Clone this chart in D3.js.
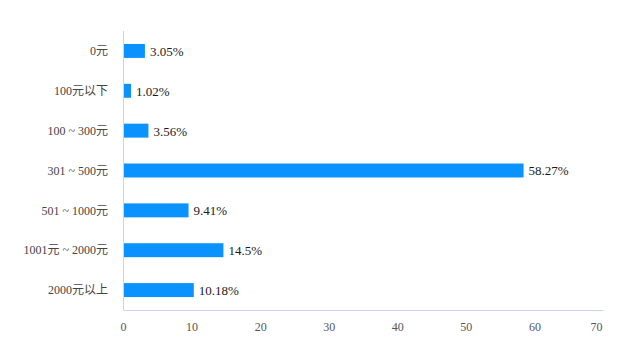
<!DOCTYPE html>
<html><head><meta charset="utf-8">
<script src="https://cdn.jsdelivr.net/npm/d3@7/dist/d3.min.js"></script>
<style>body{margin:0;background:#fff}svg{display:block}</style>
</head><body>
<svg id="c" width="625" height="355"></svg>
<script>
const categories = ["0元","100元以下","100 ~ 300元","301 ~ 500元","501 ~ 1000元","1001元 ~ 2000元","2000元以上"];
const values = [3.05, 1.02, 3.56, 58.27, 9.41, 14.5, 10.18];
const valueLabels = ["3.05%","1.02%","3.56%","58.27%","9.41%","14.5%","10.18%"];
const xTicks = [0,10,20,30,40,50,60,70];

(function(){
const svg = d3.select("#c");
const font = "'Liberation Serif','Times New Roman','Noto Sans CJK SC',serif";
const pL = 123.5, pR = 603.5, pT = 31, pB = 310;
const x = d3.scaleLinear().domain([0,70]).range([pL,pR]);
const y = d3.scaleBand().domain(categories).range([pT,pB]).paddingInner(0.65).paddingOuter(0.325);

svg.append("line").attr("x1",pL).attr("x2",pL).attr("y1",pT).attr("y2",pB)
  .attr("stroke","#c9d3ee").attr("stroke-width",1);
svg.append("line").attr("x1",pL).attr("x2",pR).attr("y1",pB+0.5).attr("y2",pB+0.5)
  .attr("stroke","#c9d3ee").attr("stroke-width",1);

svg.selectAll("rect.bar").data(values).enter().append("rect")
  .attr("x",x(0)+0.5).attr("y",(d,i)=>y(categories[i]))
  .attr("width",d=>x(d)-x(0)).attr("height",y.bandwidth())
  .attr("fill","#0a93ff");

svg.selectAll("text.val").data(values).enter().append("text")
  .attr("x",d=>x(d)+5.5).attr("y",(d,i)=>y(categories[i])+y.bandwidth()/2)
  .attr("dy","0.38em").attr("font-family",font).attr("font-size",13).attr("fill","#1a1a1a")
  .text((d,i)=>valueLabels[i]);

svg.selectAll("text.cat").data(categories).enter().append("text")
  .attr("x",108).attr("y",d=>y(d)+y.bandwidth()/2)
  .attr("dy","0.35em").attr("text-anchor","end")
  .attr("font-family",font).attr("font-size",12).attr("fill","#444")
  .text(d=>d);

svg.selectAll("text.tick").data(xTicks).enter().append("text")
  .attr("x",(d,i)=> i===xTicks.length-1 ? x(d)-7 : x(d)).attr("y",327)
  .attr("dy","0.35em").attr("text-anchor","middle")
  .attr("font-family",font).attr("font-size",12).attr("fill","#555")
  .text(d=>d);
})();
</script>
</body></html>
